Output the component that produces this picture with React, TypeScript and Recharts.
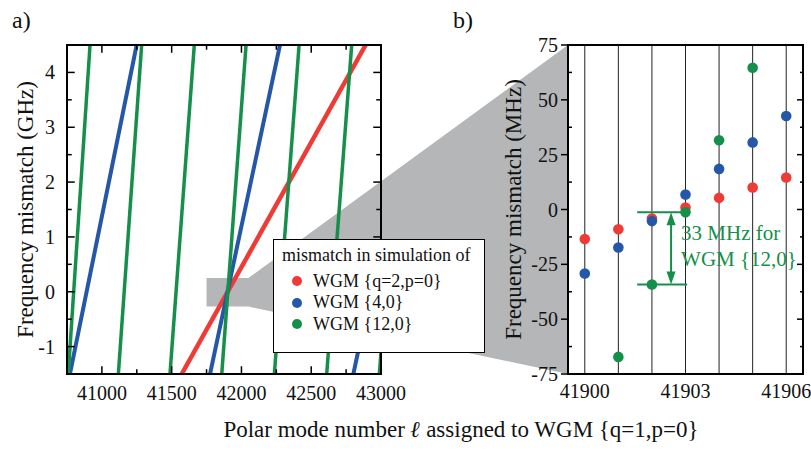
import React from "react";
import {
  ComposedChart,
  Line,
  Scatter,
  XAxis,
  YAxis,
  CartesianGrid,
  ReferenceLine,
  Legend,
} from "recharts";

const FONT = "'Liberation Serif', 'Times New Roman', serif";
const INK = "#111";
const RED = "#ee3b36";
const BLUE = "#2557a9";
const GREEN = "#15904a";
const SHADE = "#b4b6b7";

// ---- panel a): each resonance line is given by where it crosses the
// bottom (-1.5 GHz) and the top (4.5 GHz) of the frame
const ellDomain = [40750, 43000];
const ghzDomain = [-1.5, 4.5];
const redBottom = [41572];
const redTop = [42890];
const blueBottom = [40771, 41775, 42802];
const blueTop = [41249, 42276, 43303];
const greenBottom = [40759, 41118, 41488, 41859, 42236, 42611, 42988];
const greenTop = [40915, 41285, 41662, 42033, 42413, 42790, 43168];

const ellMajor = [41000, 41500, 42000, 42500, 43000];
const ellMinor = [41250, 41750, 42250, 42750];
const ghzMajor = [-1, 0, 1, 2, 3, 4];
const ghzMinor = [-0.5, 0.5, 1.5, 2.5, 3.5];

// grey zoom window in panel a)
const zoomEll = [41750, 42050];
const zoomGhz = [-0.27, 0.25];

// ---- panel b)
const modeDomain = [41899.5, 41906.5];
const modeNumbers = [41900, 41901, 41902, 41903, 41904, 41905, 41906];
const modeLabels = [41900, 41903, 41906];
const redMHz = [-13.5, -9, -4.1, 0.9, 5.3, 10, 14.6];
const blueMHz = [-29.2, -17.3, -5.3, 6.8, 18.5, 30.6, 42.6];
const greenMHz = [null, -67.2, -34.2, -1.3, 31.6, 64.6, null];
const mhzDomain = [-75, 75];
const mhzMajor = [-75, -50, -25, 0, 25, 50, 75];
const mhzMinor = [-62.5, -37.5, -12.5, 12.5, 37.5, 62.5];

const NAMES = ["WGM {q=2,p=0}", "WGM {4,0}", "WGM {12,0}"];

// layout
const W = 811;
const H = 450;
const A = { left: 67, top: 45, right: 381, bottom: 374 };
const B = { left: 568, top: 45, right: 803, bottom: 374 };
const A_W = 430;
const B_X = 400;
const B_W = W - B_X;
const X_AXIS_H = 40;
const DOT_R = 5.3;

const sorted = (a: number[]) => [...a].sort((p, q) => p - q);

// axis labels only; tick marks and the frame are drawn separately
function axisLabel(side: "bottom" | "left", gap: number, labels: number[]) {
  return (p: any) => {
    const { x, y, payload } = p;
    const v = payload.value;
    if (!labels.includes(v)) return <g />;
    const txt = { fontFamily: FONT, fontSize: 20, fill: INK };
    return side === "bottom" ? (
      <text x={x} y={y + gap} textAnchor="middle" {...txt}>
        {v}
      </text>
    ) : (
      <text x={x - gap} y={y} dy="0.35em" textAnchor="end" {...txt}>
        {v}
      </text>
    );
  };
}

type Box = { left: number; top: number; right: number; bottom: number };
type TickSpec = { values: number[]; majors: number[]; major: number; minor: number };

// frame plus ticks of panel a); positive length points into the plot
function frameAndTicks(
  id: string,
  xd: number[],
  yd: number[],
  box: Box,
  ticks: { bottom?: TickSpec; top?: TickSpec; left?: TickSpec; right?: TickSpec }
) {
  const ux = (xd[1] - xd[0]) / (box.right - box.left);
  const uy = (yd[1] - yd[0]) / (box.bottom - box.top);
  const out: React.ReactNode[] = [];
  const seg = (key: string, a: any, b: any, w: number) =>
    out.push(
      <ReferenceLine
        key={`${id}-${key}`}
        segment={[a, b]}
        stroke="#000"
        strokeWidth={w}
        strokeLinecap="square"
        ifOverflow="visible"
      />
    );
  const lenOf = (t: TickSpec, v: number) => (t.majors.includes(v) ? t.major : t.minor);
  ticks.bottom?.values.forEach((v) => {
    const l = lenOf(ticks.bottom!, v);
    if (l) seg(`b${v}`, { x: v, y: yd[0] }, { x: v, y: yd[0] + l * uy }, 1.5);
  });
  ticks.top?.values.forEach((v) => {
    const l = lenOf(ticks.top!, v);
    if (l) seg(`t${v}`, { x: v, y: yd[1] }, { x: v, y: yd[1] - l * uy }, 1.5);
  });
  ticks.left?.values.forEach((v) => {
    const l = lenOf(ticks.left!, v);
    if (l) seg(`l${v}`, { x: xd[0], y: v }, { x: xd[0] + l * ux, y: v }, 1.5);
  });
  ticks.right?.values.forEach((v) => {
    const l = lenOf(ticks.right!, v);
    if (l) seg(`r${v}`, { x: xd[1], y: v }, { x: xd[1] - l * ux, y: v }, 1.5);
  });
  seg("fb", { x: xd[0], y: yd[0] }, { x: xd[1], y: yd[0] }, 2);
  seg("ft", { x: xd[0], y: yd[1] }, { x: xd[1], y: yd[1] }, 2);
  seg("fl", { x: xd[0], y: yd[0] }, { x: xd[0], y: yd[1] }, 2);
  seg("fr", { x: xd[1], y: yd[0] }, { x: xd[1], y: yd[1] }, 2);
  return out;
}

function VTitle(props: any) {
  const { viewBox, caption, shift } = props;
  const x = viewBox.x + shift;
  const y = viewBox.y + viewBox.height / 2;
  return (
    <text
      x={x}
      y={y}
      dy="0.35em"
      transform={`rotate(-90 ${x} ${y})`}
      textAnchor="middle"
      fontFamily={FONT}
      fontSize={23}
      fill={INK}
    >
      {caption}
    </text>
  );
}

function LegendBox(props: any) {
  const items = NAMES.map((n) => (props.payload || []).find((it: any) => it.value === n)).filter(Boolean);
  return (
    <div
      style={{
        boxSizing: "border-box",
        width: 212,
        height: 114,
        border: "1px solid #000",
        background: "#fff",
        fontFamily: FONT,
        fontSize: 18,
        color: INK,
        padding: "5px 0 0 8px",
        lineHeight: "21.5px",
        whiteSpace: "nowrap",
      }}
    >
      <div style={{ marginBottom: 4 }}>mismatch in simulation of</div>
      {items.map((it: any) => (
        <div key={it.value} style={{ display: "flex", alignItems: "center", height: 21.5 }}>
          <span
            style={{
              display: "inline-block",
              width: 10,
              height: 10,
              borderRadius: 5,
              background: it.color,
              marginLeft: 10,
              marginRight: 11,
            }}
          />
          {it.value}
        </div>
      ))}
    </div>
  );
}

const ax = (v: number) =>
  A.left + ((v - ellDomain[0]) / (ellDomain[1] - ellDomain[0])) * (A.right - A.left);
const ay = (v: number) =>
  A.bottom - ((v - ghzDomain[0]) / (ghzDomain[1] - ghzDomain[0])) * (A.bottom - A.top);
const by = (v: number) =>
  B.bottom - ((v - mhzDomain[0]) / (mhzDomain[1] - mhzDomain[0])) * (B.bottom - B.top);

function Backdrop() {
  const pts = [
    [ax(zoomEll[0]), ay(zoomGhz[1])],
    [ax(zoomEll[1]), ay(zoomGhz[1])],
    [B.left, B.top],
    [B.left, B.bottom],
    [ax(zoomEll[1]), ay(zoomGhz[0])],
    [ax(zoomEll[0]), ay(zoomGhz[0])],
  ];
  return (
    <svg width={W} height={H} style={{ position: "absolute", left: 0, top: 0 }}>
      <polygon points={pts.map((q) => q.join(",")).join(" ")} fill={SHADE} />
      <text x={12} y={28} fontFamily={FONT} fontSize={24} fill={INK}>
        a)
      </text>
      <text x={453} y={28} fontFamily={FONT} fontSize={24} fill={INK}>
        b)
      </text>
      <text x={461} y={437} textAnchor="middle" fontFamily={FONT} fontSize={23} fill={INK}>
        Polar mode number{" "}
        <tspan fontWeight="bold" fontStyle="italic">
          ℓ
        </tspan>{" "}
        assigned to WGM {"{q=1,p=0}"}
      </text>
    </svg>
  );
}

// frame and tick marks of panel b), laid over the chart
function FrameB() {
  const marks = sorted([...mhzMajor, ...mhzMinor]).map((v) => {
    const major = mhzMajor.includes(v);
    const y = by(v);
    return (
      <g key={v}>
        {major ? (
          <line x1={B.left - 7} y1={y} x2={B.left} y2={y} />
        ) : (
          <line x1={B.left} y1={y} x2={B.left + 4} y2={y} />
        )}
        <line x1={B.right} y1={y} x2={B.right - (major ? 6 : 3)} y2={y} />
      </g>
    );
  });
  return (
    <>
      <svg
        width={W}
        height={H}
        style={{ position: "absolute", left: 0, top: 0, pointerEvents: "none", zIndex: 10 }}
      >
        <g stroke="#000" strokeWidth={1.5}>
          {marks}
        </g>
      </svg>
      <div
        style={{
          position: "absolute",
          left: B.left - 1,
          top: B.top - 1,
          width: B.right - B.left + 2,
          height: B.bottom - B.top + 2,
          boxSizing: "border-box",
          border: "2px solid #000",
          pointerEvents: "none",
          zIndex: 10,
        }}
      />
    </>
  );
}

const lineSets = [
  { name: NAMES[0], color: RED, width: 4.5, bottoms: redBottom, tops: redTop },
  { name: NAMES[1], color: BLUE, width: 4, bottoms: blueBottom, tops: blueTop },
  { name: NAMES[2], color: GREEN, width: 3.5, bottoms: greenBottom, tops: greenTop },
];

function PanelA() {
  const ellTicks = { values: sorted([...ellMajor, ...ellMinor]), majors: ellMajor, major: 7, minor: 4 };
  const ghzTicks = { values: sorted([...ghzMajor, ...ghzMinor]), majors: ghzMajor, major: 7, minor: 4 };
  return (
    <ComposedChart
      width={A_W}
      height={H}
      margin={{ top: A.top, right: A_W - A.right, bottom: H - A.bottom - X_AXIS_H, left: 0 }}
    >
      <XAxis
        type="number"
        dataKey="x"
        domain={ellDomain}
        allowDataOverflow
        ticks={ellMajor}
        interval={0}
        height={X_AXIS_H}
        tickSize={0}
        tickMargin={0}
        tickLine={false}
        axisLine={false}
        tick={axisLabel("bottom", 26, ellMajor)}
      />
      <YAxis
        type="number"
        domain={ghzDomain}
        allowDataOverflow
        ticks={ghzMajor}
        interval={0}
        width={A.left}
        tickSize={0}
        tickMargin={0}
        tickLine={false}
        axisLine={false}
        tick={axisLabel("left", 12, ghzMajor)}
        label={<VTitle caption="Frequency mismatch (GHz)" shift={25} />}
      />
      {lineSets.map((set) =>
        set.bottoms.map((b, i) => (
          <Line
            key={`${set.name}-${i}`}
            name={set.name}
            data={[
              { x: b, y: ghzDomain[0] },
              { x: set.tops[i], y: ghzDomain[1] },
            ]}
            dataKey="y"
            stroke={set.color}
            strokeWidth={set.width}
            dot={false}
            activeDot={false}
            legendType={i === 0 ? "circle" : "none"}
            isAnimationActive={false}
          />
        ))
      )}
      {frameAndTicks("a", ellDomain, ghzDomain, A, {
        bottom: ellTicks,
        top: ellTicks,
        left: ghzTicks,
        right: ghzTicks,
      })}
      <Legend
        layout="vertical"
        align="center"
        verticalAlign="middle"
        wrapperStyle={{ left: 273, top: 239, width: 212, height: 114, zIndex: 5 }}
        content={(p: any) => <LegendBox payload={p.payload} />}
      />
    </ComposedChart>
  );
}

function GapArrow(p: any) {
  const { x1, y1, y2 } = p;
  const top = Math.min(y1, y2);
  const bot = Math.max(y1, y2);
  const head = 13;
  const half = 4.5;
  const gap = Math.round((greenMHz[3] as number) - (greenMHz[2] as number));
  return (
    <g>
      <line x1={x1} y1={top + head - 2} x2={x1} y2={bot - head + 2} stroke={GREEN} strokeWidth={2} />
      <polygon points={`${x1},${top} ${x1 - half},${top + head} ${x1 + half},${top + head}`} fill={GREEN} />
      <polygon points={`${x1},${bot} ${x1 - half},${bot - head} ${x1 + half},${bot - head}`} fill={GREEN} />
      <text x={x1 + 10} y={top + 28} fontFamily={FONT} fontSize={21} fill={GREEN}>
        {`${gap} MHz for`}
      </text>
      <text x={x1 + 10} y={top + 54} fontFamily={FONT} fontSize={21} fill={GREEN}>
        {NAMES[2]}
      </text>
    </g>
  );
}

const Dot = (p: any) => <circle cx={p.cx} cy={p.cy} r={DOT_R} fill={p.fill} />;

const toPoints = (vals: (number | null)[]) =>
  modeNumbers.map((x, i) => ({ x, y: vals[i] })).filter((d) => d.y !== null);

function PanelB() {
  const gapTop = greenMHz[3] as number;
  const gapBottom = greenMHz[2] as number;
  const bracket = [41901.56, 41903.05];
  const arrowX = 41902.57;
  return (
    <ComposedChart
      width={B_W}
      height={H}
      margin={{
        top: B.top,
        right: B_W - (B.right - B_X),
        bottom: H - B.bottom - X_AXIS_H,
        left: B.left - B_X - 68,
      }}
    >
      <CartesianGrid horizontal={false} stroke="#222" strokeWidth={1} />
      <XAxis
        type="number"
        dataKey="x"
        domain={modeDomain}
        allowDataOverflow
        ticks={modeNumbers}
        interval={0}
        height={X_AXIS_H}
        tickSize={0}
        tickMargin={0}
        tickLine={false}
        axisLine={false}
        tick={axisLabel("bottom", 24, modeLabels)}
      />
      <YAxis
        type="number"
        dataKey="y"
        domain={mhzDomain}
        allowDataOverflow
        ticks={mhzMajor}
        interval={0}
        width={68}
        tickSize={0}
        tickMargin={0}
        tickLine={false}
        axisLine={false}
        tick={axisLabel("left", 10, mhzMajor)}
        label={<VTitle caption="Frequency mismatch (MHz)" shift={13} />}
      />
      <ReferenceLine
        segment={[
          { x: bracket[0], y: gapTop },
          { x: bracket[1], y: gapTop },
        ]}
        stroke={GREEN}
        strokeWidth={2}
      />
      <ReferenceLine
        segment={[
          { x: bracket[0], y: gapBottom },
          { x: bracket[1], y: gapBottom },
        ]}
        stroke={GREEN}
        strokeWidth={2}
      />
      <ReferenceLine
        segment={[
          { x: arrowX, y: gapTop },
          { x: arrowX, y: gapBottom },
        ]}
        stroke={GREEN}
        shape={GapArrow}
      />
      <Scatter name={NAMES[0]} data={toPoints(redMHz)} fill={RED} shape={Dot} isAnimationActive={false} />
      <Scatter name={NAMES[1]} data={toPoints(blueMHz)} fill={BLUE} shape={Dot} isAnimationActive={false} />
      <Scatter name={NAMES[2]} data={toPoints(greenMHz)} fill={GREEN} shape={Dot} isAnimationActive={false} />
    </ComposedChart>
  );
}

export default function App() {
  return (
    <div style={{ position: "absolute", left: 0, top: 0, width: W, height: H, background: "#fff" }}>
      <Backdrop />
      <div style={{ position: "absolute", left: 0, top: 0 }}>
        <PanelA />
      </div>
      <div style={{ position: "absolute", left: B_X, top: 0 }}>
        <PanelB />
      </div>
      <FrameB />
    </div>
  );
}
